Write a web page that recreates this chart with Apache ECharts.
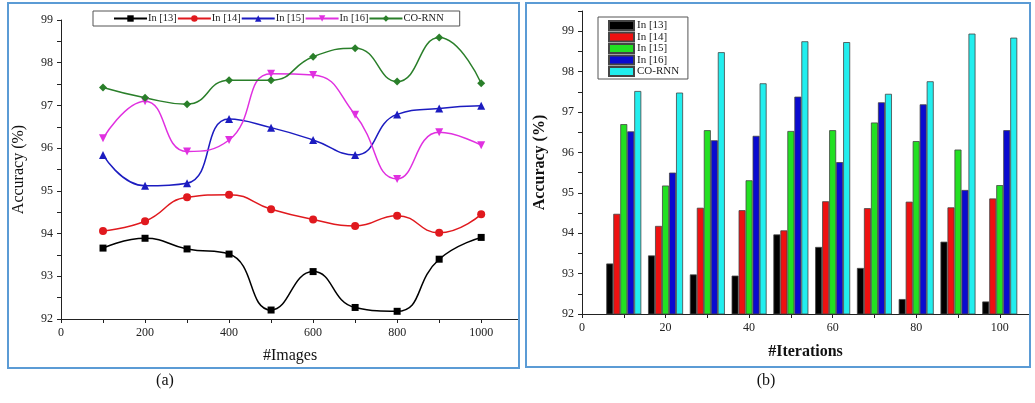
<!DOCTYPE html>
<html><head><meta charset="utf-8">
<script src="https://cdn.jsdelivr.net/npm/echarts@6/dist/echarts.min.js"></script>
<style>html,body{margin:0;padding:0;background:#fff}#c{width:1035px;height:403px}</style>
</head><body><div id="c"></div>
<script>
const seriesNames = ['In [13]', 'In [14]', 'In [15]', 'In [16]', 'CO-RNN'];

// (a) line chart
const images = [100, 200, 300, 400, 500, 600, 700, 800, 900, 1000];
const lineIn13 = [93.66, 93.89, 93.64, 93.52, 92.21, 93.11, 92.27, 92.18, 93.40, 93.91];
const lineIn14 = [94.06, 94.29, 94.85, 94.91, 94.57, 94.33, 94.18, 94.42, 94.02, 94.45];
const lineIn15 = [95.84, 95.12, 95.18, 96.68, 96.48, 96.19, 95.84, 96.79, 96.93, 96.99];
const lineIn16 = [96.23, 97.10, 95.92, 96.19, 97.74, 97.71, 96.78, 95.28, 96.37, 96.07];
const lineCORNN = [97.42, 97.18, 97.03, 97.59, 97.59, 98.14, 98.34, 97.56, 98.59, 97.52];

// (b) bar chart
const iterations = [10, 20, 30, 40, 50, 60, 70, 80, 90, 100];
const barIn13 = [93.25, 93.45, 92.98, 92.95, 93.97, 93.66, 93.14, 92.37, 93.79, 92.31];
const barIn14 = [94.48, 94.18, 94.63, 94.57, 94.07, 94.79, 94.62, 94.78, 94.64, 94.86];
const barIn15 = [96.70, 95.18, 96.55, 95.31, 96.53, 96.55, 96.74, 96.28, 96.07, 95.19];
const barIn16 = [96.52, 95.50, 96.30, 96.41, 97.38, 95.76, 97.24, 97.19, 95.07, 96.55];
const barCORNN = [97.52, 97.48, 98.48, 97.71, 98.75, 98.73, 97.45, 97.76, 98.94, 98.84];

// ticks and tick labels
const xTicksA = [0, 100, 200, 300, 400, 500, 600, 700, 800, 900, 1000];
const xLabelsA = [0, 200, 400, 600, 800, 1000];
const yTicksA = [92, 92.5, 93, 93.5, 94, 94.5, 95, 95.5, 96, 96.5, 97, 97.5, 98, 98.5, 99];
const yLabelsA = [92, 93, 94, 95, 96, 97, 98, 99];
const xTicksB = [0, 10, 20, 30, 40, 50, 60, 70, 80, 90, 100];
const xLabelsB = [0, 20, 40, 60, 80, 100];
const yTicksB = [92, 92.5, 93, 93.5, 94, 94.5, 95, 95.5, 96, 96.5, 97, 97.5, 98, 98.5, 99, 99.5];
const yLabelsB = [92, 93, 94, 95, 96, 97, 98, 99];

const FONT = '"Liberation Serif", "DejaVu Serif", serif';
const lineColors = ['#000000', '#e0191e', '#1c1cc0', '#e030e0', '#2a7f2a'];
const lineSymbols = ['rect', 'circle', 'triangle', 'triangle', 'diamond'];
const lineRot = [0, 0, 0, 180, 0];
const lineSizes = [7, 8, 8, 8, 8];
const lineData = [lineIn13, lineIn14, lineIn15, lineIn16, lineCORNN];
const barColors = ['#000000', '#ee1111', '#22e022', '#0a0ad0', '#22eeee'];
const barData = [barIn13, barIn14, barIn15, barIn16, barCORNN];

function zip(xs, ys) { return xs.map((x, i) => [x, ys[i]]); }
const plain = v => String(v);

function tickCfg(vals) { return { show: true, length: 4, lineStyle: { color: '#222' }, customValues: vals }; }
function labelCfg(vals) { return { color: '#222', fontFamily: FONT, fontSize: 12, customValues: vals, formatter: plain }; }
const axisLine = { show: true, lineStyle: { color: '#222', width: 1 } };

const series = [];
lineData.forEach((d, i) => {
  series.push({
    name: seriesNames[i], type: 'line', xAxisIndex: 0, yAxisIndex: 0,
    data: zip(images, d), smooth: 0.5,
    symbol: lineSymbols[i], symbolRotate: lineRot[i], symbolSize: lineSizes[i],
    lineStyle: { color: lineColors[i], width: 1.5 },
    itemStyle: { color: lineColors[i] },
    emphasis: { disabled: true }
  });
});
barData.forEach((d, i) => {
  series.push({
    name: seriesNames[i] + ' ', type: 'bar', xAxisIndex: 1, yAxisIndex: 1,
    data: zip(iterations, d), barWidth: 7, barGap: '0%',
    itemStyle: { color: barColors[i], borderColor: '#444', borderWidth: 0.8 },
    emphasis: { disabled: true }
  });
});

const chart = echarts.init(document.getElementById('c'), null, { renderer: 'canvas' });
chart.setOption({
  animation: false,
  backgroundColor: '#fff',
  grid: [
    { left: 61, top: 20, width: 458, height: 299 },
    { left: 582, top: 11, width: 447, height: 303 }
  ],
  xAxis: [
    {
      gridIndex: 0, type: 'value', min: 0, max: 1090, splitLine: { show: false }, axisLine,
      name: '#Images', nameLocation: 'middle', nameGap: 29,
      nameTextStyle: { fontFamily: FONT, fontSize: 16, color: '#111' },
      axisTick: tickCfg(xTicksA), axisLabel: labelCfg(xLabelsA)
    },
    {
      gridIndex: 1, type: 'value', min: 0, max: 107, splitLine: { show: false }, axisLine,
      name: '#Iterations', nameLocation: 'middle', nameGap: 30,
      nameTextStyle: { fontFamily: FONT, fontSize: 16, fontWeight: 'bold', color: '#111' },
      axisTick: tickCfg(xTicksB), axisLabel: labelCfg(xLabelsB)
    }
  ],
  yAxis: [
    {
      gridIndex: 0, type: 'value', min: 92, max: 99, splitLine: { show: false }, axisLine,
      name: 'Accuracy (%)', nameLocation: 'middle', nameGap: 34,
      nameTextStyle: { fontFamily: FONT, fontSize: 16, color: '#111' },
      axisTick: tickCfg(yTicksA), axisLabel: labelCfg(yLabelsA)
    },
    {
      gridIndex: 1, type: 'value', min: 92, max: 99.5, splitLine: { show: false }, axisLine,
      name: 'Accuracy (%)', nameLocation: 'middle', nameGap: 34,
      nameTextStyle: { fontFamily: FONT, fontSize: 16, fontWeight: 'bold', color: '#111' },
      axisTick: tickCfg(yTicksB), axisLabel: labelCfg(yLabelsB)
    }
  ],
  legend: [
    {
      data: seriesNames, orient: 'horizontal', left: 93, top: 11,
      itemWidth: 33, itemHeight: 8, itemGap: 0,
      padding: [2, 16, 2, 20], borderColor: '#555', borderWidth: 1,
      textStyle: { fontFamily: FONT, fontSize: 10.5, color: '#222', padding: [0, 0, 0, -4] },
      selectedMode: false
    },
    {
      data: seriesNames.map(n => n + ' '), orient: 'vertical', left: 598, top: 17,
      itemWidth: 25, itemHeight: 9, itemGap: 0.5, icon: 'rect',
      padding: [3, 6, 2, 10], borderColor: '#555', borderWidth: 1,
      textStyle: { fontFamily: FONT, fontSize: 11, lineHeight: 11, color: '#222', padding: [0, 0, 0, -2] },
      selectedMode: false
    }
  ],
  graphic: [
    { type: 'rect', shape: { x: 8, y: 3, width: 511, height: 365 }, style: { fill: 'none', stroke: '#5b9bd5', lineWidth: 2 }, silent: true, z: 100 },
    { type: 'rect', shape: { x: 526, y: 3, width: 504, height: 364 }, style: { fill: 'none', stroke: '#5b9bd5', lineWidth: 2 }, silent: true, z: 100 },
    { type: 'text', x: 165, y: 381, style: { text: '(a)', fontFamily: FONT, fontSize: 16, fill: '#111', textAlign: 'center', textVerticalAlign: 'middle' }, silent: true },
    { type: 'text', x: 766, y: 381, style: { text: '(b)', fontFamily: FONT, fontSize: 16, fill: '#111', textAlign: 'center', textVerticalAlign: 'middle' }, silent: true }
  ],
  series: series
});
</script>
</body></html>
